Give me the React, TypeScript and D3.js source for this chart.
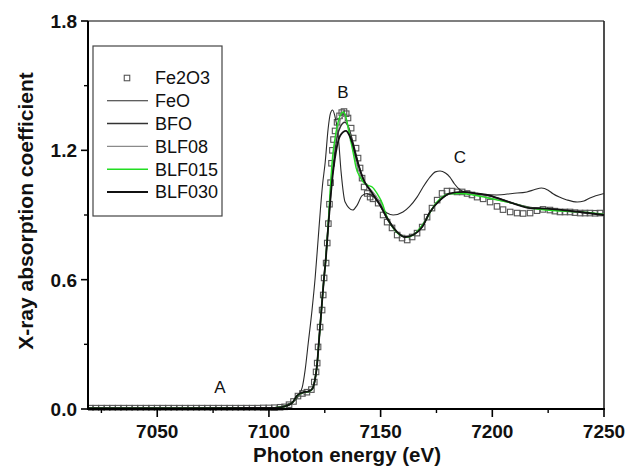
import React from "react";
import * as d3 from "d3";

const X_TICKS = [7050, 7100, 7150, 7200, 7250];
const X_MINOR = [7025, 7075, 7125, 7175, 7225];
const Y_TICKS = [0, 0.6, 1.2, 1.8];
const Y_MINOR = [0.3, 0.9, 1.5];

const FE2O3: [number, number][] = [
  [7020, 0.004], [7022.5, 0.004], [7025, 0.004], [7027.5, 0.004], [7030, 0.004], [7032.5, 0.004],
  [7035, 0.004], [7037.5, 0.004], [7040, 0.004], [7042.5, 0.004], [7045, 0.004], [7047.5, 0.004],
  [7050, 0.004], [7052.5, 0.004], [7055, 0.004], [7057.5, 0.004], [7060, 0.004], [7062.5, 0.004],
  [7065, 0.004], [7067.5, 0.004], [7070, 0.004], [7072.5, 0.004], [7075, 0.004], [7077.5, 0.004],
  [7080, 0.004], [7082.5, 0.004], [7085, 0.004], [7087.5, 0.004], [7090, 0.004], [7092.5, 0.004],
  [7095, 0.004], [7097.5, 0.005], [7100, 0.005], [7102.5, 0.006], [7105, 0.008],
  [7107, 0.01], [7109, 0.02], [7111, 0.035], [7113, 0.06], [7115, 0.072], [7117, 0.078], [7119, 0.09],
  [7120.3, 0.125], [7121.1, 0.172], [7121.6, 0.213], [7122, 0.288], [7122.9, 0.38], [7123.8, 0.459],
  [7124.3, 0.529], [7124.7, 0.608], [7125.6, 0.677], [7126.1, 0.77], [7126.6, 0.86], [7127.1, 0.95],
  [7127.6, 1.05], [7128, 1.14], [7128.4, 1.2], [7128.9, 1.25], [7129.6, 1.29], [7130.5, 1.33],
  [7131.6, 1.36], [7132.6, 1.375], [7133.6, 1.38], [7134.6, 1.37], [7135.4, 1.35], [7136.8, 1.303],
  [7137.7, 1.257], [7139, 1.21], [7139.9, 1.164], [7140.8, 1.118], [7141.7, 1.071], [7142.6, 1.03],
  [7144, 1.0], [7145.3, 0.983], [7146.6, 0.975], [7148.9, 0.955], [7151.1, 0.9], [7152.9, 0.867],
  [7155.1, 0.84], [7157.4, 0.807], [7159.6, 0.793], [7161.9, 0.784], [7164.1, 0.798], [7166.3, 0.816],
  [7168.6, 0.844], [7170.8, 0.89], [7173, 0.932], [7175.3, 0.969], [7177.5, 1.0], [7179.7, 1.011],
  [7182, 1.011], [7184.2, 1.007], [7186.5, 1.007], [7188.7, 1.0], [7190.9, 0.993], [7193.2, 0.983],
  [7195.9, 0.975], [7199, 0.96], [7202.1, 0.94], [7204.8, 0.925], [7208, 0.914], [7211.1, 0.909],
  [7213.8, 0.907], [7216.9, 0.909], [7220, 0.92], [7222.7, 0.926], [7225.8, 0.923], [7228, 0.918],
  [7230.3, 0.914], [7232.5, 0.914], [7234.8, 0.914], [7237, 0.911], [7239.3, 0.909], [7241.5, 0.909],
  [7243.7, 0.909], [7246, 0.908], [7248.2, 0.909],
];

const FEO: [number, number][] = [
  [7019, 0.003], [7060, 0.003], [7100, 0.005], [7106, 0.012], [7109, 0.025], [7111.7, 0.04],
  [7114.9, 0.1], [7116.2, 0.18], [7117.6, 0.306], [7119.3, 0.46], [7120.7, 0.61], [7122, 0.784],
  [7123, 0.92], [7124, 1.04], [7125.2, 1.146], [7126.5, 1.3], [7127.5, 1.37], [7128.5, 1.387],
  [7129.5, 1.36], [7131, 1.27], [7132.3, 1.1], [7134.1, 0.96], [7137.5, 0.923], [7139.5, 0.946],
  [7141.7, 0.99], [7144, 1.0], [7146, 0.99], [7148.4, 0.97], [7150.5, 0.93], [7152.9, 0.909],
  [7155.6, 0.9], [7160, 0.914], [7163, 0.94], [7166.3, 0.983], [7169, 1.03], [7172.1, 1.076],
  [7174.5, 1.1], [7176.6, 1.104], [7179, 1.095], [7181, 1.076], [7183, 1.045], [7185.6, 1.016],
  [7190, 1.0], [7196, 0.995], [7202, 0.993], [7209, 1.0], [7215.5, 1.007], [7219, 1.018],
  [7222, 1.025], [7225, 1.015], [7227, 1.0], [7230, 0.983], [7233.4, 0.97], [7238, 0.96],
  [7241, 0.965], [7243.7, 0.979], [7250, 1.0],
];

const BFO: [number, number][] = [
  [7019, 0.004], [7060, 0.004], [7100, 0.005], [7105, 0.008], [7108, 0.015], [7110.5, 0.03],
  [7112.6, 0.06], [7115, 0.075], [7118, 0.082], [7119.5, 0.095], [7120.5, 0.13], [7121.5, 0.2],
  [7122.5, 0.33], [7123.5, 0.46], [7124.5, 0.59], [7125.5, 0.71], [7126.5, 0.85], [7127.5, 0.98],
  [7128.5, 1.1], [7129.5, 1.19], [7130.5, 1.26], [7132, 1.31], [7134, 1.33], [7135.5, 1.31],
  [7137, 1.26], [7138.5, 1.2], [7140.5, 1.12], [7142.5, 1.06], [7145, 1.02], [7147.5, 0.985],
  [7150, 0.94], [7153, 0.88], [7157, 0.825], [7161, 0.8], [7164.5, 0.808], [7168.6, 0.846],
  [7172, 0.912], [7176.6, 0.97], [7181, 0.998], [7187, 1.005], [7193, 0.998], [7199, 0.988],
  [7205, 0.97], [7210, 0.952], [7217, 0.935], [7224.5, 0.928], [7232, 0.92], [7240, 0.912],
  [7250, 0.902],
];

const BLF08: [number, number][] = [
  [7019, 0.004], [7060, 0.004], [7100, 0.005], [7105, 0.008], [7108, 0.015], [7110.5, 0.03],
  [7112.6, 0.058], [7115, 0.073], [7118, 0.08], [7119.5, 0.093], [7120.5, 0.128], [7121.5, 0.2],
  [7122.5, 0.33], [7123.5, 0.46], [7124.5, 0.59], [7125.5, 0.7], [7126.3, 0.82], [7127, 0.94],
  [7127.7, 1.05], [7128.5, 1.15], [7129.5, 1.23], [7130.5, 1.29], [7131.5, 1.33], [7133.5, 1.36],
  [7134.6, 1.345], [7135.6, 1.3], [7136.8, 1.25], [7138, 1.19], [7139.4, 1.13], [7141, 1.08],
  [7143, 1.045], [7145, 1.025], [7147.5, 0.995], [7150, 0.955], [7153, 0.89], [7156, 0.84],
  [7159, 0.81], [7162, 0.8], [7165, 0.81], [7168, 0.845], [7171, 0.895], [7174, 0.94],
  [7177, 0.975], [7181, 0.998], [7186, 1.002], [7192, 0.994], [7198, 0.982], [7204, 0.966],
  [7210, 0.952], [7217, 0.933], [7224.5, 0.925], [7232, 0.918], [7240, 0.912], [7250, 0.903],
];

const BLF015: [number, number][] = [
  [7019, 0.004], [7060, 0.004], [7100, 0.005], [7105, 0.008], [7108, 0.015], [7110.5, 0.03],
  [7112.6, 0.06], [7115, 0.075], [7118, 0.082], [7119.5, 0.095], [7120.5, 0.13], [7121.5, 0.2],
  [7122.5, 0.33], [7123.5, 0.46], [7124.5, 0.59], [7125.5, 0.7], [7126.3, 0.82], [7127, 0.94],
  [7127.7, 1.06], [7128.5, 1.17], [7129.5, 1.25], [7130.5, 1.31], [7131.5, 1.35], [7133.2, 1.378],
  [7134.3, 1.36], [7135.4, 1.31], [7136.5, 1.25], [7137.7, 1.19], [7139, 1.12], [7140.8, 1.076],
  [7142.5, 1.05], [7144, 1.039], [7146.2, 1.03], [7148.4, 1.0], [7150.7, 0.955], [7152.9, 0.89],
  [7155.6, 0.84], [7158.7, 0.807], [7161.9, 0.798], [7164.5, 0.807], [7167.7, 0.84], [7170.8, 0.886],
  [7173.5, 0.937], [7176.6, 0.975], [7180.2, 0.998], [7185.6, 1.0], [7191.4, 0.993], [7197.6, 0.98],
  [7203, 0.968], [7209, 0.955], [7216.9, 0.932], [7224.5, 0.923], [7231.6, 0.918], [7239.3, 0.914],
  [7250, 0.903],
];

const BLF030: [number, number][] = [
  [7019, 0.004], [7060, 0.004], [7100, 0.005], [7105, 0.008], [7108, 0.015], [7110.5, 0.03],
  [7112.6, 0.062], [7115, 0.076], [7118, 0.083], [7119.5, 0.095], [7120.5, 0.13], [7121.5, 0.2],
  [7122.5, 0.33], [7123.5, 0.46], [7124.5, 0.59], [7125.5, 0.7], [7126.5, 0.84], [7127.5, 0.97],
  [7128.5, 1.08], [7129.5, 1.16], [7130.5, 1.22], [7132, 1.27], [7134.5, 1.29], [7136, 1.27],
  [7137.5, 1.23], [7139, 1.17], [7140.8, 1.108], [7143, 1.05], [7145.3, 1.016], [7147.5, 0.98],
  [7149.8, 0.946], [7152.9, 0.886], [7157.4, 0.821], [7161, 0.798], [7164.5, 0.807], [7168.6, 0.844],
  [7172.1, 0.914], [7176.6, 0.969], [7181, 1.0], [7186.9, 1.007], [7193.2, 1.0], [7199, 0.99],
  [7202, 0.979], [7209, 0.955], [7216.9, 0.932], [7224.5, 0.93], [7231.6, 0.923], [7239.3, 0.914],
  [7250, 0.9],
];

const LEGEND_NAMES = ["Fe2O3", "FeO", "BFO", "BLF08", "BLF015", "BLF030"];

const W = 643;
const H = 474;
const M = { left: 88, right: 604, top: 21, bottom: 409 };
const FONT = "Arial, 'Liberation Sans', Helvetica, sans-serif";

export default function App() {
  const x = d3.scaleLinear().domain([7019, 7250]).range([M.left, M.right]);
  const y = d3.scaleLinear().domain([0, 1.8]).range([M.bottom, M.top]);
  const line = d3
    .line<[number, number]>()
    .x((d) => x(d[0]))
    .y((d) => y(d[1]))
    .curve(d3.curveMonotoneX);

  const series = [
    { name: "FeO", data: FEO, color: "#2a2a2a", width: 1.1 },
    { name: "BFO", data: BFO, color: "#333333", width: 1.5 },
    { name: "BLF08", data: BLF08, color: "#8a8a8a", width: 1.1 },
    { name: "BLF015", data: BLF015, color: "#22dd22", width: 1.4 },
    { name: "BLF030", data: BLF030, color: "#111111", width: 1.8 },
  ];
  const styleOf: Record<string, { color: string; width: number }> = {};
  series.forEach((s) => (styleOf[s.name] = { color: s.color, width: s.width }));

  const sq = 5.5;
  const legendYs = LEGEND_NAMES.map((_, i) => 78 + i * 22.8);

  return (
    <svg
      width={W}
      height={H}
      style={{ position: "absolute", left: 0, top: 0, background: "#fff" }}
      fontFamily={FONT}
    >
      <defs>
        <clipPath id="plot">
          <rect x={M.left} y={M.top - 2} width={M.right - M.left} height={M.bottom - M.top + 4} />
        </clipPath>
      </defs>
      <rect x={0} y={0} width={W} height={H} fill="#fff" />

      {/* frame top & right */}
      <line x1={M.left} x2={M.right} y1={M.top} y2={M.top} stroke="#555" strokeWidth={1.3} />
      <line x1={M.right} x2={M.right} y1={M.top} y2={M.bottom} stroke="#222" strokeWidth={1.6} />

      <g clipPath="url(#plot)">
        {FE2O3.map((d, i) => (
          <rect
            key={i}
            x={x(d[0]) - sq / 2}
            y={y(d[1]) - sq / 2}
            width={sq}
            height={sq}
            fill="none"
            stroke="#555"
            strokeWidth={1.1}
          />
        ))}
        {series.map((s) => (
          <path key={s.name} d={line(s.data) || ""} fill="none" stroke={s.color} strokeWidth={s.width} />
        ))}
      </g>

      {/* axes */}
      <line x1={M.left} x2={M.left} y1={M.top} y2={M.bottom + 1} stroke="#000" strokeWidth={2} />
      <line x1={M.left - 1} x2={M.right + 1} y1={M.bottom} y2={M.bottom} stroke="#000" strokeWidth={2} />

      {X_TICKS.map((t) => (
        <g key={"xt" + t}>
          <line x1={x(t)} x2={x(t)} y1={M.bottom} y2={M.bottom + 8} stroke="#000" strokeWidth={1.6} />
          <text x={x(t)} y={438} textAnchor="middle" fontSize={19} fontWeight="bold" fill="#111">
            {t}
          </text>
        </g>
      ))}
      {X_MINOR.map((t) => (
        <line key={"xm" + t} x1={x(t)} x2={x(t)} y1={M.bottom} y2={M.bottom + 4} stroke="#000" strokeWidth={1.4} />
      ))}
      {Y_TICKS.map((t) => (
        <g key={"yt" + t}>
          <line x1={M.left - 7} x2={M.left} y1={y(t)} y2={y(t)} stroke="#000" strokeWidth={1.6} />
          <text x={77} y={y(t)} dy="0.36em" textAnchor="end" fontSize={19} fontWeight="bold" fill="#111">
            {t.toFixed(1)}
          </text>
        </g>
      ))}
      {Y_MINOR.map((t) => (
        <line key={"ym" + t} x1={M.left - 4} x2={M.left} y1={y(t)} y2={y(t)} stroke="#000" strokeWidth={1.4} />
      ))}

      {/* axis titles */}
      <text x={347} y={462} textAnchor="middle" fontSize={20.5} fontWeight="bold" fill="#111">
        Photon energy (eV)
      </text>
      <text
        transform={`translate(33,211) rotate(-90)`}
        textAnchor="middle"
        fontSize={21}
        fontWeight="bold"
        fill="#111"
      >
        X-ray absorption coefficient
      </text>

      {/* annotations */}
      <text x={220} y={387} dy="0.36em" textAnchor="middle" fontSize={17} fill="#111">A</text>
      <text x={343} y={92} dy="0.36em" textAnchor="middle" fontSize={17} fill="#111">B</text>
      <text x={460} y={157} dy="0.36em" textAnchor="middle" fontSize={17} fill="#111">C</text>

      {/* legend */}
      <rect x={93} y={46} width={129} height={170} fill="#fff" stroke="#444" strokeWidth={1.2} />
      {LEGEND_NAMES.map((n, i) => {
        const ly = legendYs[i];
        const st = styleOf[n];
        return (
          <g key={n}>
            {n === "Fe2O3" ? (
              <rect x={127 - sq / 2} y={ly - sq / 2} width={sq} height={sq} fill="none" stroke="#555" strokeWidth={1.1} />
            ) : (
              <line x1={107} x2={148} y1={ly} y2={ly} stroke={st.color} strokeWidth={st.width} />
            )}
            <text x={155} y={ly} dy="0.36em" fontSize={18} fill="#111">
              {n}
            </text>
          </g>
        );
      })}
    </svg>
  );
}
